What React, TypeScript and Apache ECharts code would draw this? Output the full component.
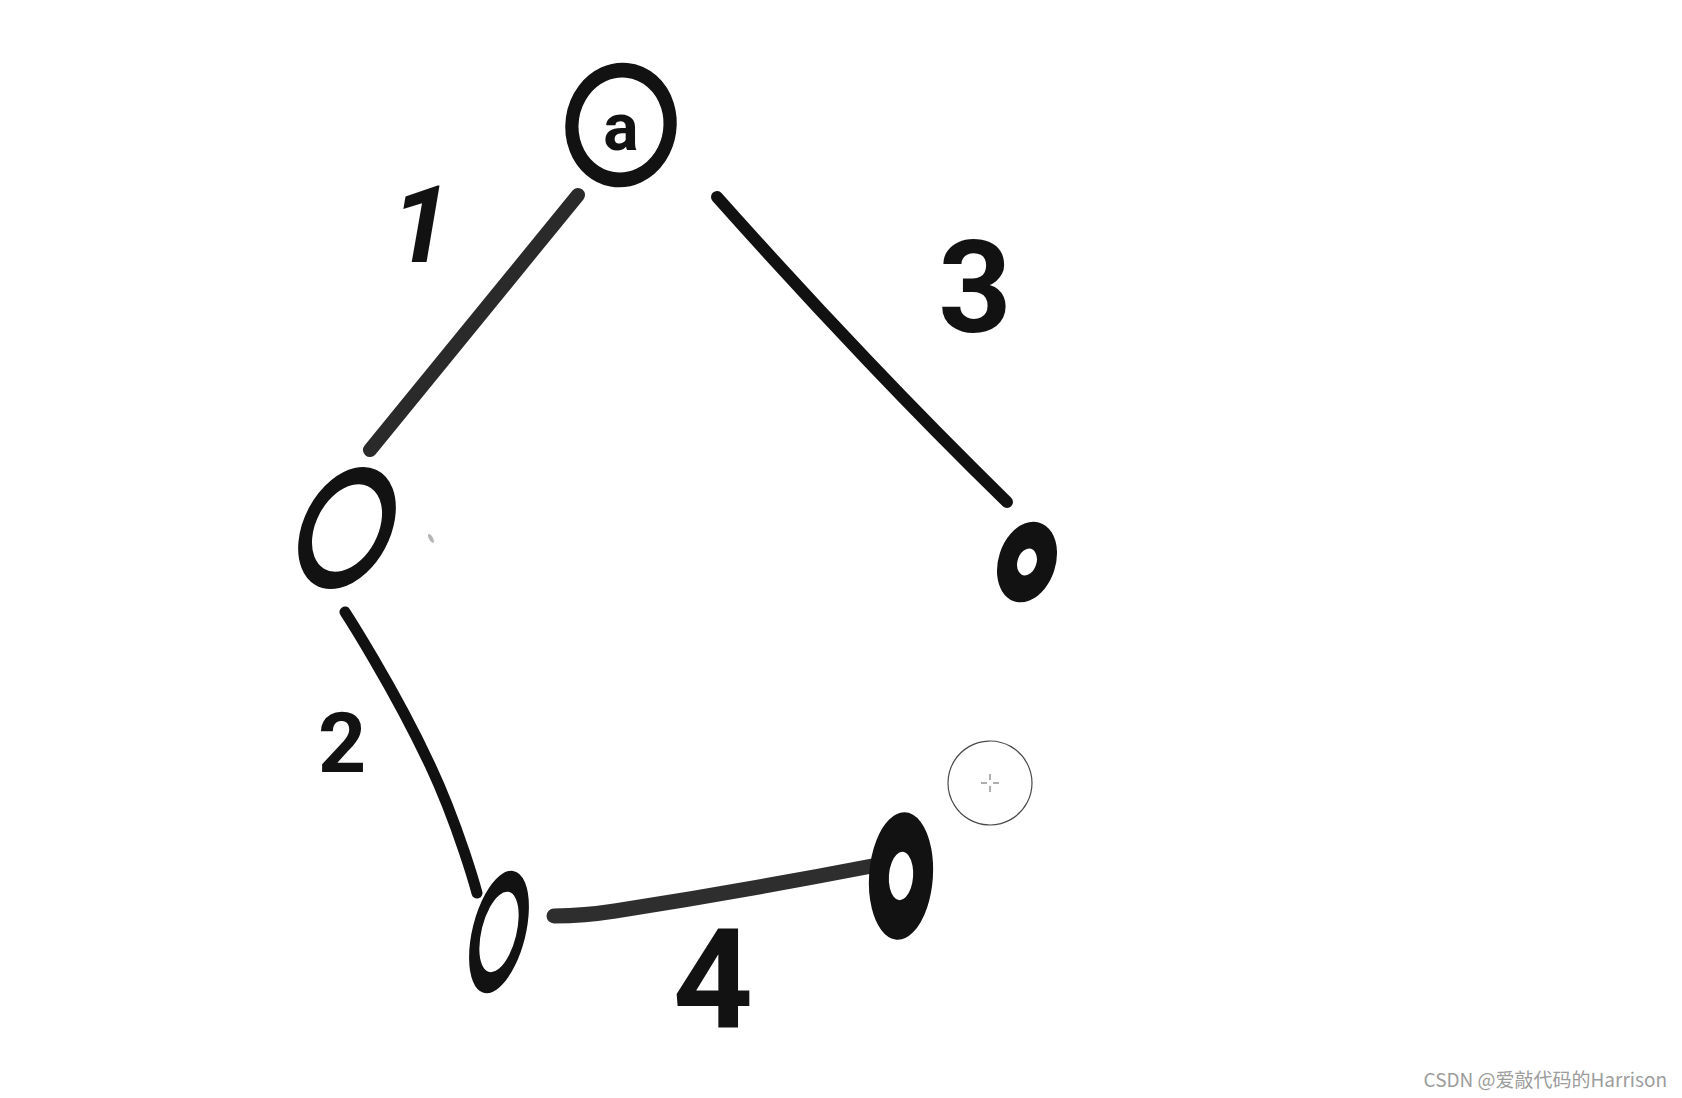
import * as echarts from "echarts";
import { useEffect, useRef } from "react";

// graph (pixel space 1682 x 1098, y down)
const nodeNames = ["a", "", "", "", ""];
const nodeX = [621, 347, 1027, 499, 901];
const nodeY = [125, 528, 562, 932, 876];

// edges: weight + the pen stroke points between the two nodes
const edgeWeights = ["1", "3", "2", "4"];
const edgeStrokes = [
  [[578, 195], [370, 450]],
  [[717, 197], [868, 361], [1007, 502]],
  [[345, 612], [430, 765], [477, 893]],
  [[554, 916], [615, 911], [872, 866]]
];
const weightX = [421, 975, 342, 713];
const weightY = [225, 288, 743, 980];

const watermark = "CSDN @爱敲代码的Harrison";

// drawing styles (not data)
const nodeShape = [
  { size: [98, 110], rotate: -8, border: 14 },
  { size: [74, 112], rotate: -28, border: 15 },
  { size: [38, 55], rotate: -18, border: 23 },
  { size: [44, 104], rotate: -14, border: 14 },
  { size: [44, 88], rotate: -4, border: 28 }
];
const edgeStyle = [
  { width: 14, color: "#2a2a2a" },
  { width: 12, color: "#111111" },
  { width: 11, color: "#111111" },
  { width: 15, color: "#2e2e2e" }
];
const weightFont = [
  { fontSize: 108, fontStyle: "italic" },
  { fontSize: 128, fontStyle: "normal" },
  { fontSize: 84, fontStyle: "normal" },
  { fontSize: 140, fontStyle: "normal" }
];

export default function App() {
  const ref = useRef<HTMLDivElement>(null);

  useEffect(() => {
    if (!ref.current) return;
    const chart = echarts.init(ref.current, null, { renderer: "svg" });

    const cx = 990;
    const cy = 783;

    chart.setOption({
      animation: false,
      backgroundColor: "#ffffff",
      grid: { left: 0, right: 0, top: 0, bottom: 0 },
      xAxis: { type: "value", min: 0, max: 1682, show: false },
      yAxis: { type: "value", min: 0, max: 1098, inverse: true, show: false },
      series: [
        ...edgeStrokes.map((pts, i) => ({
          name: "edge " + edgeWeights[i],
          type: "line",
          data: pts,
          smooth: 0.5,
          symbol: "none",
          silent: true,
          z: 2,
          lineStyle: {
            width: edgeStyle[i].width,
            color: edgeStyle[i].color,
            cap: "round",
            join: "round"
          }
        })),
        {
          name: "nodes",
          type: "scatter",
          silent: true,
          z: 3,
          data: nodeX.map((x, i) => ({
            value: [x, nodeY[i]],
            name: nodeNames[i],
            symbolSize: nodeShape[i].size,
            symbolRotate: nodeShape[i].rotate,
            itemStyle: {
              color: "rgba(0,0,0,0)",
              borderColor: "#121212",
              borderWidth: nodeShape[i].border,
              opacity: 1
            }
          })),
          label: {
            show: true,
            position: "inside",
            formatter: "{b}",
            fontFamily: "Roboto",
            fontWeight: "bold",
            fontSize: 66,
            color: "#121212",
            offset: [0, 2]
          }
        },
        {
          name: "weights",
          type: "scatter",
          silent: true,
          z: 3,
          symbolSize: 1,
          itemStyle: { color: "rgba(0,0,0,0)", opacity: 1 },
          data: weightX.map((x, i) => ({
            value: [x, weightY[i]],
            name: edgeWeights[i],
            label: weightFont[i]
          })),
          label: {
            show: true,
            position: "inside",
            formatter: "{b}",
            fontFamily: "Roboto",
            fontWeight: "bold",
            color: "#121212"
          }
        }
      ],
      graphic: [
        // pen cursor left in the screenshot
        {
          type: "circle",
          shape: { cx, cy, r: 42 },
          style: { fill: "none", stroke: "#4a4a4a", lineWidth: 1.2 },
          silent: true
        },
        {
          type: "line",
          shape: { x1: cx - 9, y1: cy, x2: cx - 3, y2: cy },
          style: { stroke: "#777", lineWidth: 1.2 },
          silent: true
        },
        {
          type: "line",
          shape: { x1: cx + 3, y1: cy, x2: cx + 9, y2: cy },
          style: { stroke: "#777", lineWidth: 1.2 },
          silent: true
        },
        {
          type: "line",
          shape: { x1: cx, y1: cy - 9, x2: cx, y2: cy - 3 },
          style: { stroke: "#777", lineWidth: 1.2 },
          silent: true
        },
        {
          type: "line",
          shape: { x1: cx, y1: cy + 3, x2: cx, y2: cy + 9 },
          style: { stroke: "#777", lineWidth: 1.2 },
          silent: true
        },
        {
          type: "ellipse",
          shape: { cx: 431, cy: 538, rx: 2, ry: 5 },
          rotation: 0.5,
          originX: 431,
          originY: 538,
          style: { fill: "#b5b5b5" },
          silent: true
        },
        {
          type: "text",
          right: 15,
          bottom: 10,
          style: {
            text: watermark,
            font: '19px "Noto Sans CJK SC", "Liberation Sans", sans-serif',
            fill: "#9c9c9c"
          },
          silent: true
        }
      ]
    });

    return () => chart.dispose();
  }, []);

  return (
    <div
      ref={ref}
      style={{ position: "absolute", left: 0, top: 0, width: 1682, height: 1098 }}
    />
  );
}
